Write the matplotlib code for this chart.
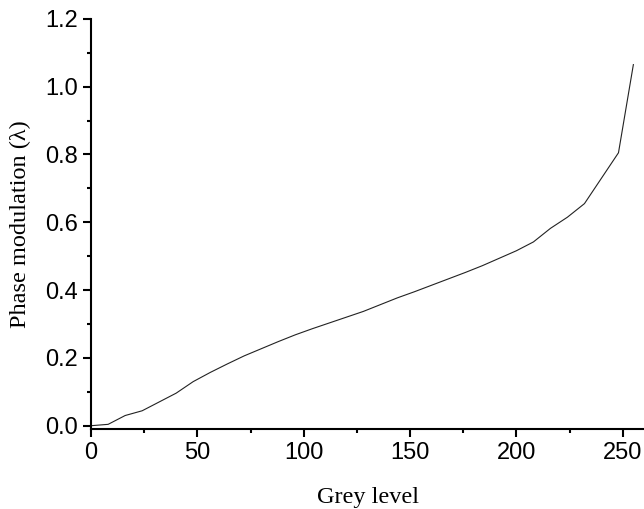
import numpy as np
import matplotlib
matplotlib.use('Agg')
import matplotlib.pyplot as plt
from matplotlib.ticker import MultipleLocator

# grey level vs measured phase modulation (in wavelengths)
grey = [0, 8, 16, 24, 32, 40, 48, 56, 64, 72, 80, 88, 96, 104, 112, 120,
        128, 136, 144, 152, 160, 168, 176, 184, 192, 200, 208, 216, 224,
        232, 240, 248, 255]
phase = [0.0, 0.004, 0.030, 0.044, 0.070, 0.096, 0.130, 0.157, 0.182,
         0.206, 0.227, 0.248, 0.268, 0.286, 0.303, 0.320, 0.337, 0.357,
         0.377, 0.395, 0.414, 0.433, 0.452, 0.472, 0.494, 0.516, 0.542,
         0.582, 0.615, 0.655, 0.730, 0.805, 1.065]

fig = plt.figure(figsize=(6.44, 5.09), dpi=100)
ax = fig.add_axes([0.1415, 0.157, 0.8585, 0.806])

ax.plot(grey, phase, color='#222222', lw=0.8)

ax.set_xlim(0, 260)
ax.set_ylim(-0.01, 1.2)
ax.xaxis.set_major_locator(MultipleLocator(50))
ax.xaxis.set_minor_locator(MultipleLocator(25))
ax.yaxis.set_major_locator(MultipleLocator(0.2))
ax.yaxis.set_minor_locator(MultipleLocator(0.1))
ax.yaxis.set_major_formatter(plt.FormatStrFormatter('%.1f'))

for s in ['top', 'right']:
    ax.spines[s].set_visible(False)
for s in ['left', 'bottom']:
    ax.spines[s].set_linewidth(1.5)

ax.tick_params(which='major', direction='out', length=5.5, width=1.5,
               labelsize=17, pad=4)
ax.tick_params(which='minor', direction='out', length=3, width=1.5)
for lab in ax.get_xticklabels() + ax.get_yticklabels():
    lab.set_family('Liberation Sans')

ax.set_xlabel('Grey level', family='Liberation Serif', fontsize=17.5, labelpad=16)
ax.set_ylabel('Phase modulation (λ)', family='Liberation Serif', fontsize=17.5,
              labelpad=10)

fig.savefig('out.png', dpi=100)
